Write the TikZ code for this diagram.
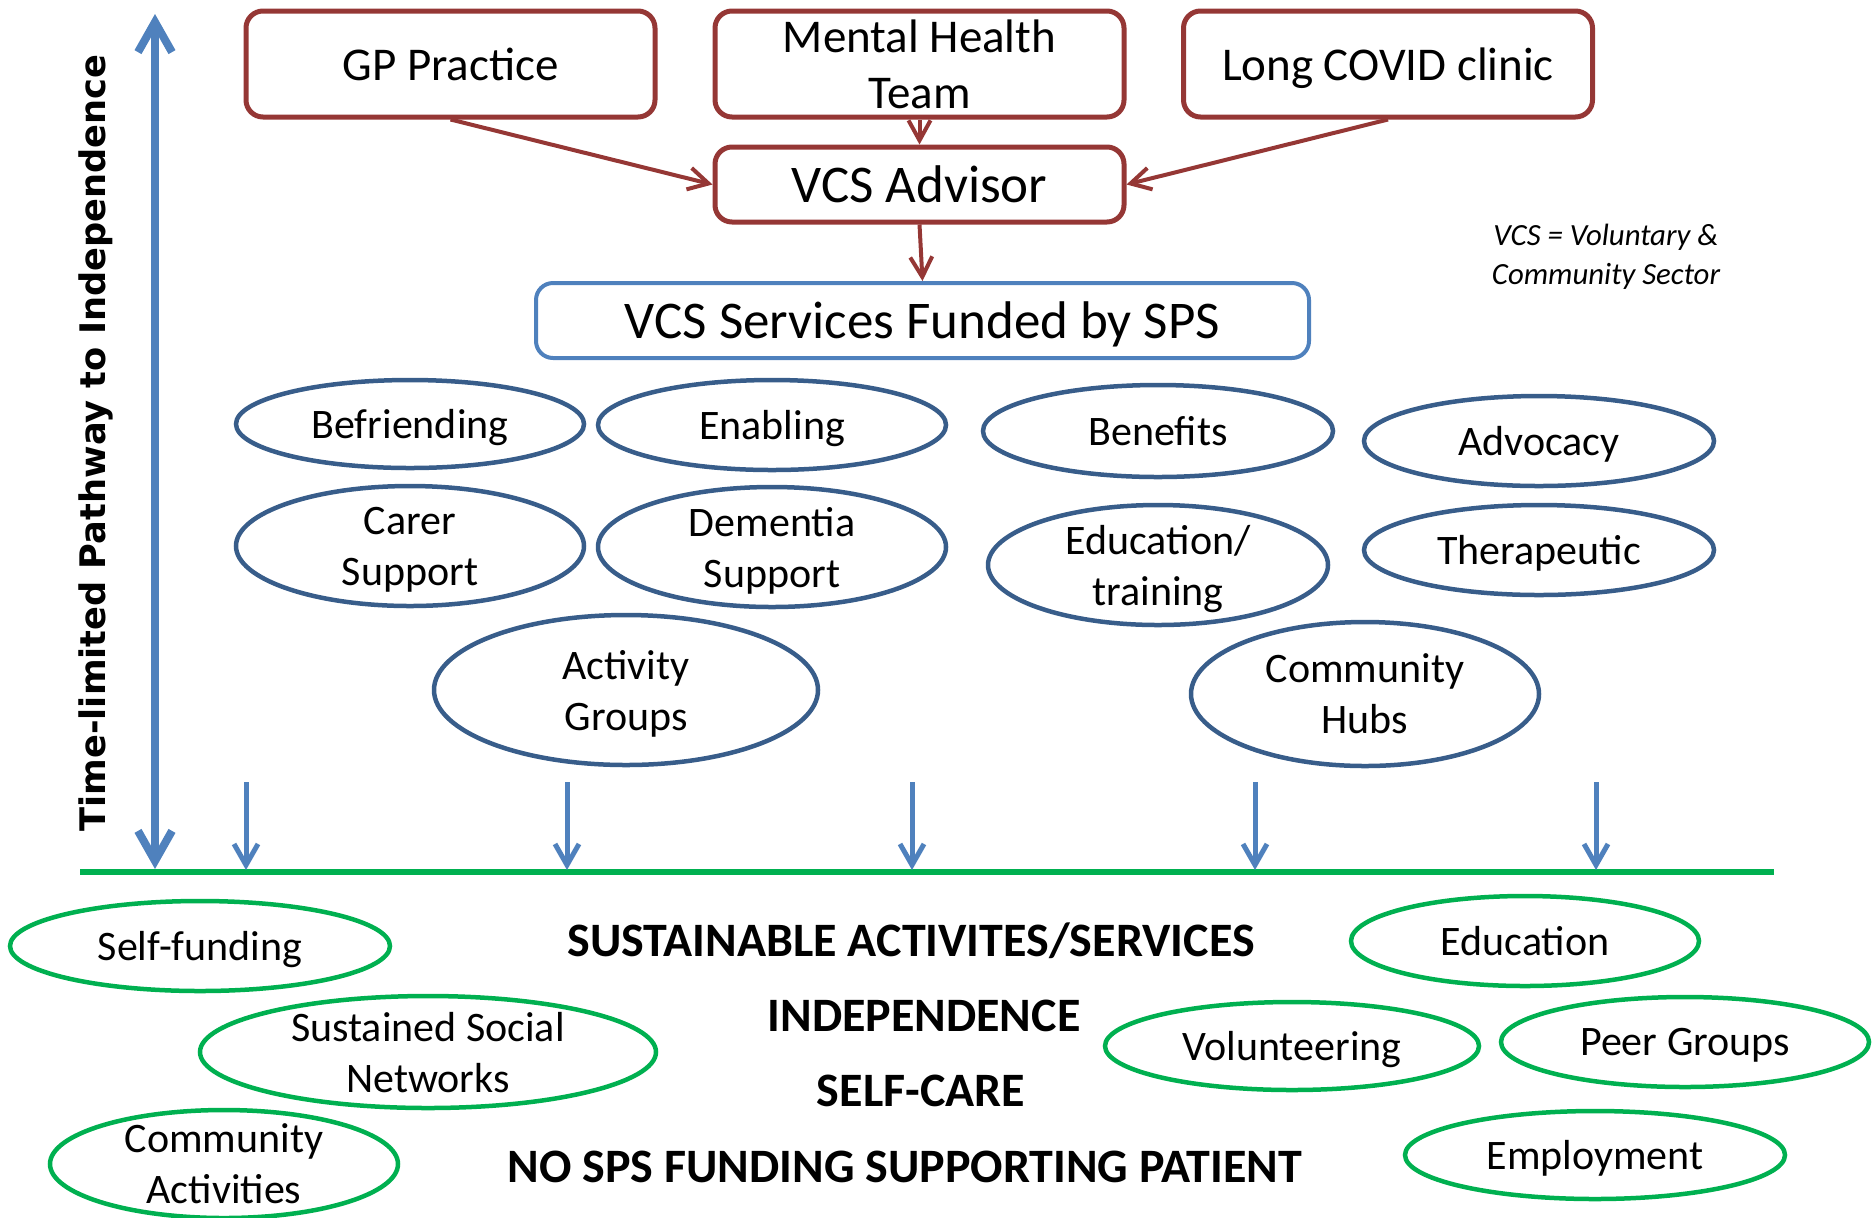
\documentclass[tikz,border=0pt]{standalone}
\usepackage{fontspec}
\setmainfont{Carlito}
\newfontfamily\axisfont{DejaVu Sans}
\usetikzlibrary{shapes.geometric,arrows.meta}
\definecolor{boxred}{RGB}{149,55,53}
\definecolor{lineblue}{RGB}{79,129,189}
\definecolor{ovalblue}{RGB}{56,93,138}
\definecolor{ovalgreen}{RGB}{0,176,80}
\begin{document}
\begin{tikzpicture}[x=0.5pt,y=-0.5pt,
		referral/.style={draw=boxred, line width=2.5pt, rounded corners=8.5pt, minimum width=204.5pt, inner sep=0pt, text depth=0pt, align=center, font=\fontsize{23.5}{28}\selectfont},
		fundbox/.style={draw=lineblue, line width=2pt, rounded corners=8.5pt, minimum height=37.5pt, inner sep=0pt, text depth=0pt, font=\fontsize{26.5}{30}\selectfont},
		oval/.style 2 args={ellipse, line width=2.25pt, inner sep=-20pt, minimum width=#1pt, minimum height=#2pt, text depth=0pt, align=center, font=\fontsize{21}{25.5}\selectfont},
		service/.style 2 args={oval={#1}{#2}, draw=ovalblue},
		outcome/.style 2 args={oval={#1}{#2}, draw=ovalgreen},
		redarrow/.style={draw=boxred, line width=2pt, -{Straight Barb[length=10pt,width=11pt]}},
		stage/.style={anchor=base, font=\fontsize{24}{28}\selectfont\bfseries}]
	\useasboundingbox (0,0) rectangle (1872,1217);

	% referrals
	\node[referral, minimum height=53pt] (gp) at (450.5,64) {GP Practice};
	\node[referral, minimum height=53pt] (mh) at (919.5,64) {Mental Health\\Team};
	\node[referral, minimum height=53pt] (lc) at (1388,64) {Long COVID clinic};
	\node[referral, minimum height=37.5pt, font=\fontsize{26.5}{30}\selectfont] (adv) at (919.5,184.5) {VCS Advisor};
	\node[fundbox, minimum width=386.5pt] (sps) at (922.5,320.5) {VCS Services Funded by SPS};
	\node[align=center, font=\fontsize{15.4}{19.7}\selectfont\itshape] (key) at (1606,257) {VCS = Voluntary \&\\Community Sector};

	\draw[redarrow] (gp.south) -- (adv.west);
	\draw[redarrow] (lc.south) -- (adv.east);
	\draw[redarrow] (mh.south) -- (adv.north);
	\draw[redarrow] (adv.south) -- (sps.north);

	% services funded
	\node[service={174}{44}] (befr) at (410,424) {Befriending};
	\node[service={174}{45}] (enab) at (772,425) {Enabling};
	\node[service={175}{46}] (bene) at (1158,431) {Benefits};
	\node[service={175}{45}] (advo) at (1539,441) {Advocacy};
	\node[service={174}{60}] (carer) at (410,546) {Carer\\Support};
	\node[service={174}{60}] (dem) at (772,547) {Dementia\\Support};
	\node[service={170}{60}] (edtr) at (1158,565) {Education/\\training};
	\node[service={175}{45}] (ther) at (1539,550) {Therapeutic};
	\node[service={192}{75}] (act) at (626,690) {Activity\\Groups};
	\node[service={174}{72}] (hubs) at (1365,694) {Community\\Hubs};

	% pathway
	\coordinate (ptop) at (155,14);
	\coordinate (pbot) at (155,869);
	\draw[lineblue, line width=4pt, {Straight Barb[length=15pt,width=17pt]}-{Straight Barb[length=15pt,width=17pt]}] (pbot) -- (ptop);
	\node[rotate=90, font=\axisfont\fontsize{17.6}{20}\selectfont\bfseries] (path) at (96,443) {Time-limited Pathway to Independence};
	\coordinate (gl) at (80,872);
	\coordinate (gr) at (1774,872);
	\draw[ovalgreen, line width=2.75pt] (gl) -- (gr);
	\foreach \x [count=\i] in {246,567,912,1255,1596} {
		\coordinate (from\i) at (\x,782);
		\coordinate (to\i) at (\x,870);
		\draw[lineblue, line width=2.5pt, -{Straight Barb[length=10.5pt,width=12pt]}] (from\i) -- (to\i);
	}

	% sustainable
	\node[stage] (sust) at (911,956) {SUSTAINABLE ACTIVITES/SERVICES};
	\node[stage] (indep) at (924,1031) {INDEPENDENCE};
	\node[stage] (self) at (921,1106) {SELF-CARE};
	\node[stage] (nosps) at (905,1182) {NO SPS FUNDING SUPPORTING PATIENT};

	\node[outcome={190}{45}] (sfund) at (200,946) {Self-funding};
	\node[outcome={228}{56}] (ssn) at (428,1052) {Sustained Social\\Networks};
	\node[outcome={174}{54}] (cact) at (224,1164) {Community\\Activities};
	\node[outcome={174}{45}] (educ) at (1525,941) {Education};
	\node[outcome={187}{44}] (vol) at (1292,1046) {Volunteering};
	\node[outcome={184}{45}] (peer) at (1685,1042) {Peer Groups};
	\node[outcome={190}{44}] (emp) at (1595,1155) {Employment};
\end{tikzpicture}
\end{document}
